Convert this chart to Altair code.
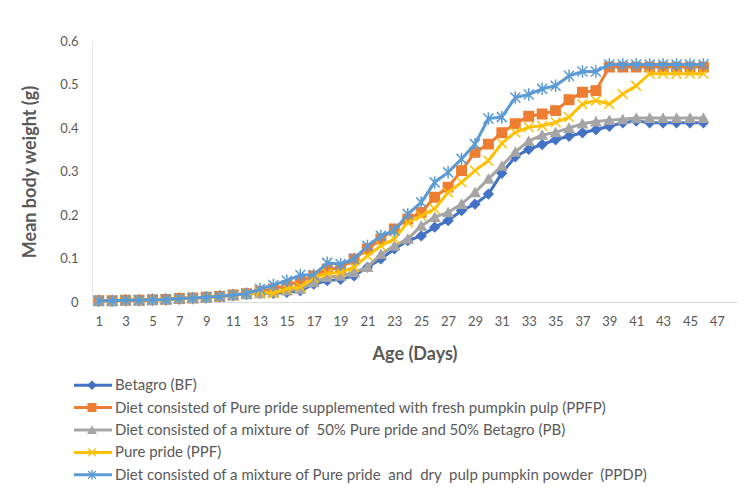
import altair as alt
import pandas as pd

days = list(range(1, 47))

NB = "\u00a0"
names = [
    "Betagro (BF)",
    "Diet consisted of Pure pride supplemented with fresh pumpkin pulp (PPFP)",
    "Diet consisted of a mixture of " + NB + "50% Pure pride and 50% Betagro (PB)",
    "Pure pride (PPF)",
    "Diet consisted of a mixture of Pure pride " + NB + "and " + NB + "dry " + NB + "pulp pumpkin powder " + NB + "(PPDP)",
]

early = [0.003, 0.003, 0.004, 0.004, 0.005, 0.006, 0.008, 0.009, 0.011, 0.013, 0.016, 0.019]

bf = early + [0.020, 0.020, 0.022, 0.026, 0.041, 0.049, 0.052, 0.060, 0.080, 0.099,
              0.122, 0.141, 0.152, 0.172, 0.187, 0.210, 0.225, 0.248, 0.296, 0.334,
              0.351, 0.362, 0.373, 0.381, 0.389, 0.396, 0.404, 0.412, 0.416,
              0.412, 0.412, 0.412, 0.412, 0.412]

ppfp = early + [0.025, 0.030, 0.038, 0.048, 0.060, 0.076, 0.078, 0.099, 0.122, 0.145,
                0.168, 0.191, 0.206, 0.241, 0.264, 0.302, 0.344, 0.363, 0.389, 0.410,
                0.427, 0.432, 0.440, 0.465, 0.482, 0.486, 0.540,
                0.540, 0.540, 0.540, 0.540, 0.540, 0.540, 0.540]

pb = early + [0.020, 0.022, 0.026, 0.030, 0.045, 0.057, 0.060, 0.068, 0.080, 0.110,
              0.129, 0.145, 0.175, 0.195, 0.206, 0.225, 0.252, 0.283, 0.313, 0.345,
              0.370, 0.384, 0.390, 0.400, 0.410, 0.415, 0.418, 0.420,
              0.423, 0.423, 0.423, 0.423, 0.423, 0.423]

ppf = early + [0.022, 0.020, 0.030, 0.035, 0.055, 0.066, 0.068, 0.080, 0.106, 0.129,
               0.145, 0.183, 0.198, 0.214, 0.252, 0.275, 0.302, 0.325, 0.365, 0.390,
               0.402, 0.405, 0.413, 0.425, 0.455, 0.463, 0.455, 0.478, 0.497, 0.525,
               0.525, 0.525, 0.525, 0.525]

ppdp = early + [0.030, 0.039, 0.049, 0.062, 0.062, 0.090, 0.087, 0.099, 0.129, 0.152,
                0.164, 0.202, 0.229, 0.275, 0.298, 0.329, 0.363, 0.422, 0.425, 0.470,
                0.477, 0.490, 0.497, 0.520, 0.530, 0.530, 0.546,
                0.546, 0.546, 0.546, 0.546, 0.546, 0.546, 0.546]

all_values = [bf, ppfp, pb, ppf, ppdp]

colors = ["#4472C4", "#ED7D31", "#A5A5A5", "#FFC000", "#5B9BD5"]
shapes = [
    "diamond",
    "square",
    "triangle-up",
    "M-1,-1L1,1M-1,1L1,-1",
    "M-1,-1L1,1M-1,1L1,-1M0,-1.25L0,1.25",
]
sizes = [85, 100, 120, 100, 130]

x_ticks = list(range(1, 48, 2))
y_ticks = [0, 0.1, 0.2, 0.3, 0.4, 0.5, 0.6]

rows = []
for name, vals in zip(names, all_values):
    for d, v in zip(days, vals):
        rows.append({"day": d, "value": v, "series": name})
df = pd.DataFrame(rows)
leg_df = pd.DataFrame({"series": names})

FONT = "Lato"
GREY = "#595959"

color_scale = alt.Scale(domain=names, range=colors)
shape_scale = alt.Scale(domain=names, range=shapes)
size_scale = alt.Scale(domain=names, range=sizes)

x_enc = alt.X(
    "day:Q",
    scale=alt.Scale(domain=[0.5, 48.5], nice=False, zero=False),
    axis=alt.Axis(
        values=x_ticks, title="Age (Days)", ticks=False, grid=False,
        domainColor="#D9D9D9", domainWidth=1, labelColor=GREY, labelFontSize=13,
        labelPadding=13, labelFont=FONT, titleFont=FONT, titleFontSize=18,
        titleFontWeight="bold", titleColor=GREY, titlePadding=17, labelFlush=False,
    ),
)
y_enc = alt.Y(
    "value:Q",
    scale=alt.Scale(domain=[0, 0.6], nice=False),
    axis=alt.Axis(
        values=y_ticks, format="~g", title="Mean body weight (g)", ticks=False,
        grid=False, domainColor="#E6E6E6", labelColor=GREY, labelFontSize=13,
        labelPadding=14, labelFont=FONT, titleFont=FONT, titleFontSize=18,
        titleFontWeight="bold", titleColor=GREY, titlePadding=20,
    ),
)

base = alt.Chart(df)
layers = []
for name in names:
    sub = base.transform_filter(alt.FieldEqualPredicate(field="series", equal=name))
    layers.append(
        sub.mark_line(strokeWidth=3).encode(
            x=x_enc, y=y_enc,
            color=alt.Color("series:N", scale=color_scale, legend=None),
        )
    )
    layers.append(
        sub.mark_point(filled=True, opacity=1, strokeWidth=1.5).encode(
            x=x_enc, y=y_enc,
            color=alt.Color("series:N", scale=color_scale, legend=None),
            stroke=alt.Stroke("series:N", scale=color_scale, legend=None),
            shape=alt.Shape("series:N", scale=shape_scale, legend=None),
            size=alt.Size("series:N", scale=size_scale, legend=None),
        )
    )
data_layer = alt.layer(*layers)

leg_y = alt.Y("series:N", scale=alt.Scale(domain=names, range=[333, 445]), axis=None)
leg_base = alt.Chart(leg_df)
leg_rule = leg_base.mark_rule(strokeWidth=3).encode(
    x=alt.value(-18), x2=alt.value(20), y=leg_y,
    color=alt.Color("series:N", scale=color_scale, legend=None),
)
leg_point = leg_base.mark_point(filled=True, opacity=1, strokeWidth=1.3).encode(
    x=alt.value(0), y=leg_y,
    color=alt.Color("series:N", scale=color_scale, legend=None),
    stroke=alt.Stroke("series:N", scale=color_scale, legend=None),
    shape=alt.Shape("series:N", scale=shape_scale, legend=None),
    size=alt.value(60),
)
leg_text = leg_base.mark_text(align="left", baseline="middle", fontSize=15, font=FONT, color=GREY).encode(
    x=alt.value(23), y=leg_y, text="series:N",
)
legend_layer = alt.layer(leg_rule, leg_point, leg_text)

chart = (
    alt.layer(data_layer, legend_layer)
    .resolve_scale(y="independent")
    .properties(
        width=645, height=261,
        padding={"left": 13, "top": 27, "right": 5, "bottom": 5},
        background="white",
    )
    .configure_view(stroke=None)
)

chart.save("out.html", embed_options={"renderer": "svg", "actions": False})
